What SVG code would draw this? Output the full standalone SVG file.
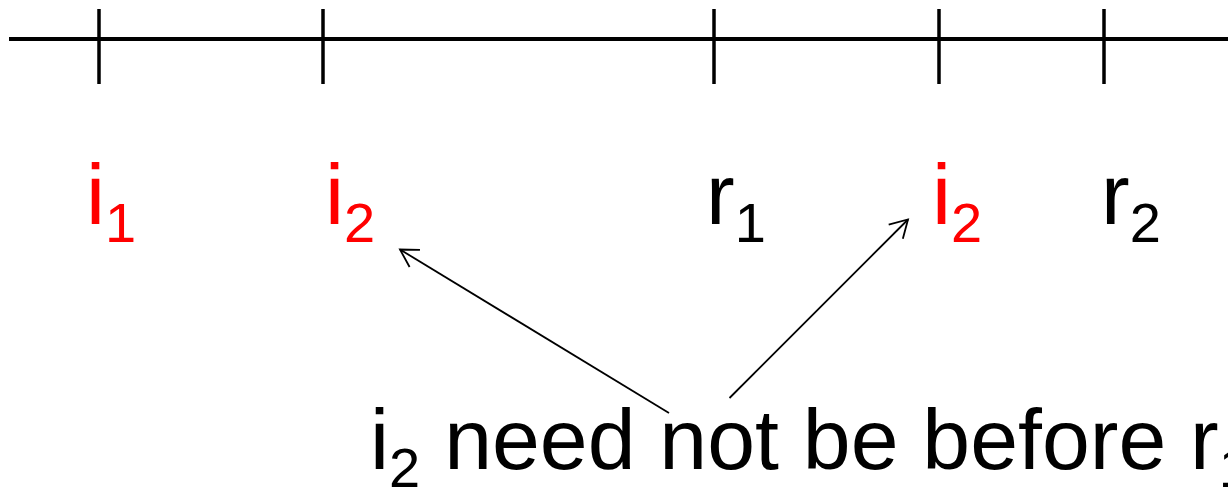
<svg xmlns="http://www.w3.org/2000/svg" width="1228" height="489" viewBox="0 0 1228 489">
<style>
  .axis { stroke: #000; stroke-width: 4; fill: none; }
  .tick { stroke: #000; stroke-width: 3.5; fill: none; }
  .lbl { font-family: "Liberation Sans", Arial, sans-serif; font-size: 86px; }
  .red { fill: #FF0000; }
  .blk { fill: #000; }
  .sub { font-size: 56px; }
  .conn { stroke: #000; stroke-width: 1.8; fill: none; marker-end: url(#arr); }
</style>
<defs>
  <marker id="arr" markerUnits="userSpaceOnUse" viewBox="-22 -13 26 26" refX="0" refY="0" markerWidth="26" markerHeight="26" orient="auto">
    <path d="M-17.3,-10 L0,0 L-17.3,10" fill="none" stroke="#000" stroke-width="1.8"/>
  </marker>
</defs>
<rect width="1228" height="489" fill="#fff"/>
<g id="timeline">
  <line class="axis" x1="9" y1="39" x2="1228" y2="39"/>
  <line class="tick" x1="99" y1="9" x2="99" y2="84"/>
  <line class="tick" x1="323" y1="9" x2="323" y2="84"/>
  <line class="tick" x1="714" y1="9" x2="714" y2="84"/>
  <line class="tick" x1="939" y1="9" x2="939" y2="84"/>
  <line class="tick" x1="1104" y1="9" x2="1104" y2="84"/>
</g>
<g id="node-i1"><text class="lbl red" x="86" y="224">i<tspan class="sub" dy="18">1</tspan></text></g>
<g id="node-i2a"><text class="lbl red" x="325" y="224">i<tspan class="sub" dy="18">2</tspan></text></g>
<g id="node-r1"><text class="lbl blk" x="706" y="224">r<tspan class="sub" dy="18">1</tspan></text></g>
<g id="node-i2b"><text class="lbl red" x="932" y="224">i<tspan class="sub" dy="18">2</tspan></text></g>
<g id="node-r2"><text class="lbl blk" x="1101" y="224">r<tspan class="sub" dy="18">2</tspan></text></g>
<g id="node-note"><text class="lbl blk" x="370" y="469">i<tspan class="sub" dy="18">2</tspan><tspan dy="-18"> need not be before r</tspan><tspan class="sub" dy="18">1</tspan></text></g>
<g id="connectors">
  <line class="conn" x1="669" y1="413" x2="400" y2="249.5"/>
  <line class="conn" x1="729.5" y1="398" x2="908" y2="219.5"/>
</g>
</svg>
